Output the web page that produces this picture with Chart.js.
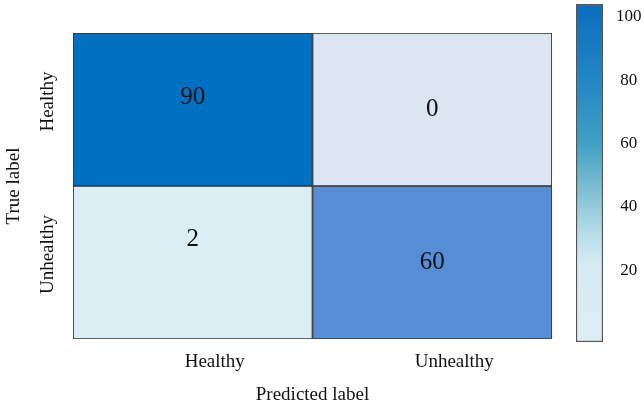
<!DOCTYPE html>
<html>
<head>
<meta charset="utf-8">
<script src="https://cdn.jsdelivr.net/npm/chart.js@4"></script>
<style>
  body { margin: 0; background: #fff; }
  #wrap { position: relative; width: 644px; height: 404px; }
  #cm { position: absolute; left: 0; top: 0; }
  #cbar { position: absolute; left: 565px; top: 0; }
</style>
</head>
<body>
<div id="wrap">
  <canvas id="cm" width="565" height="404"></canvas>
  <canvas id="cbar" width="79" height="404"></canvas>
</div>
<script>
// confusion matrix values
var predictedLabels = ['Healthy', 'Unhealthy'];
var trueLabels = ['Healthy', 'Unhealthy'];
var rowHealthy = [90, 0];
var rowUnhealthy = [2, 60];
var colorbarTicks = [20, 40, 60, 80, 100];
var colorbarMin = -2.7;
var colorbarMax = 104.1;

// cell fill colours
var rowHealthyColors = ['#0070C0', '#DCE6F2'];
var rowUnhealthyColors = ['#DAEEF3', '#558ED5'];
// small vertical nudges of the numbers, as in the picture
var rowHealthyNudge = [-12, 0];
var rowUnhealthyNudge = [-23, 0];

Chart.defaults.font.family = "'Liberation Serif', 'Times New Roman', serif";
Chart.defaults.color = '#111';

var cellText = {
    id: 'cellText',
    afterDatasetsDraw: function(chart) {
        var ctx = chart.ctx;
        ctx.save();
        ctx.font = "25px 'Liberation Serif'";
        ctx.fillStyle = '#111';
        ctx.textAlign = 'center';
        ctx.textBaseline = 'middle';
        chart.data.datasets.forEach(function(ds, di) {
            var meta = chart.getDatasetMeta(di);
            meta.data.forEach(function(bar, i) {
                var cy = (bar.y + bar.base) / 2 + ds.nudge[i];
                ctx.fillText(String(ds.values[i]), bar.x, cy);
            });
        });
        ctx.restore();
    }
};

new Chart(document.getElementById('cm'), {
    type: 'bar',
    data: {
        labels: predictedLabels,
        datasets: [
            {
                label: trueLabels[0],
                values: rowHealthy,
                nudge: rowHealthyNudge,
                data: rowHealthy.map(function() { return [1, 2]; }),
                backgroundColor: rowHealthyColors,
                borderColor: '#333',
                borderWidth: 1.2,
                borderSkipped: false,
                barPercentage: 1,
                categoryPercentage: 1,
                grouped: false
            },
            {
                label: trueLabels[1],
                values: rowUnhealthy,
                nudge: rowUnhealthyNudge,
                data: rowUnhealthy.map(function() { return [0, 1]; }),
                backgroundColor: rowUnhealthyColors,
                borderColor: '#333',
                borderWidth: 1.2,
                borderSkipped: false,
                barPercentage: 1,
                categoryPercentage: 1,
                grouped: false
            }
        ]
    },
    options: {
        responsive: false,
        animation: false,
        devicePixelRatio: 1,
        layout: { padding: { top: 33, right: 13, left: 0, bottom: 0 } },
        plugins: { legend: { display: false }, tooltip: { enabled: false } },
        scales: {
            x: {
                grid: { display: false, drawTicks: false },
                border: { display: false },
                ticks: { font: { size: 19 }, padding: 12, labelOffset: 22, color: '#111' },
                title: { display: true, text: 'Predicted label', font: { size: 19 }, padding: { top: 0, bottom: -2 }, color: '#111' },
                afterFit: function(s) { s.height = 65; }
            },
            y: {
                min: 0,
                max: 2,
                grid: { display: false, drawTicks: false },
                border: { display: false },
                afterBuildTicks: function(s) { s.ticks = [{ value: 0.5 }, { value: 1.5 }]; },
                ticks: {
                    font: { size: 19 },
                    minRotation: 90,
                    maxRotation: 90,
                    crossAlign: 'center',
                    padding: -15,
                    labelOffset: -8,
                    color: '#111',
                    callback: function(v) { return v > 1 ? trueLabels[0] : trueLabels[1]; }
                },
                title: { display: true, text: 'True label', font: { size: 19 }, padding: { top: 3, bottom: 0 }, color: '#111' },
                afterFit: function(s) { s.width = 73; }
            }
        }
    },
    plugins: [cellText]
});

// colour bar
function barGradient(context) {
    var chart = context.chart;
    var area = chart.chartArea;
    if (!area) return '#0070C0';
    var ys = chart.scales.y;
    var g = chart.ctx.createLinearGradient(0, ys.getPixelForValue(colorbarMin), 0, ys.getPixelForValue(colorbarMax));
    var stops = [
        [colorbarMin, '#DCEEF4'],
        [22, '#D6EBF1'],
        [32, '#B5DCE7'],
        [45, '#7FC0D4'],
        [60, '#3FA1C3'],
        [80, '#2287C4'],
        [colorbarMax, '#0A6DBF']
    ];
    stops.forEach(function(s) {
        g.addColorStop((s[0] - colorbarMin) / (colorbarMax - colorbarMin), s[1]);
    });
    return g;
}

new Chart(document.getElementById('cbar'), {
    type: 'bar',
    data: {
        labels: [''],
        datasets: [{
            data: [[colorbarMin, colorbarMax]],
            backgroundColor: barGradient,
            borderColor: '#555',
            borderWidth: 1.5,
            borderSkipped: false,
            barPercentage: 1,
            categoryPercentage: 1
        }]
    },
    options: {
        responsive: false,
        animation: false,
        devicePixelRatio: 1,
        layout: { padding: { top: 4, left: 11, right: 0, bottom: 0 } },
        plugins: { legend: { display: false }, tooltip: { enabled: false } },
        scales: {
            x: {
                display: true,
                grid: { display: false, drawTicks: false },
                border: { display: false },
                ticks: { display: false },
                afterFit: function(s) { s.height = 62; }
            },
            y: {
                position: 'right',
                min: colorbarMin,
                max: colorbarMax,
                grid: { display: false, drawTicks: false },
                border: { display: false },
                afterBuildTicks: function(s) { s.ticks = colorbarTicks.map(function(v) { return { value: v }; }); },
                ticks: { font: { size: 17 }, crossAlign: 'center', padding: 13, color: '#111' },
                afterFit: function(s) { s.width = 41; s.paddingTop = 0; s.paddingBottom = 0; }
            }
        }
    }
});
</script>
</body>
</html>
